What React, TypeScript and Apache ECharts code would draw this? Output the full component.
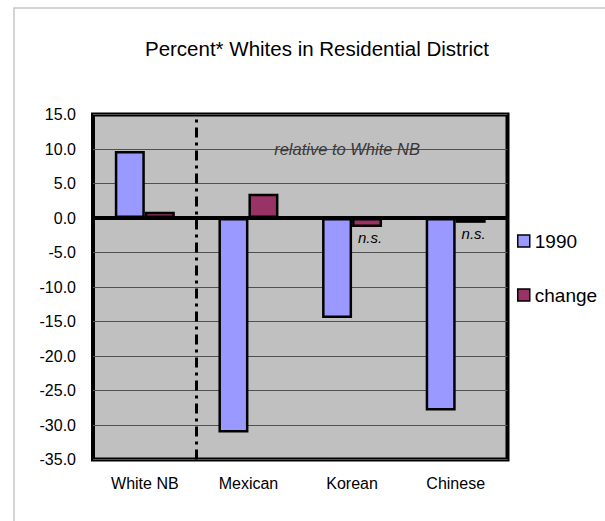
import React, { useEffect, useRef } from "react";
import * as echarts from "echarts";

// Groups along the category axis
const groups = ["White NB", "Mexican", "Korean", "Chinese"];
// Percent whites in 1990, relative to White NB
const values1990 = [9.7, -31.1, -14.5, -27.9];
// Change since 1990
const valuesChange = [0.9, 3.5, -1.3, -0.7];
// Changes that are not statistically significant
const notSignificant = [false, false, true, true];
// Value-axis range
const yMin = -35;
const yMax = 15;
const yStep = 5;

const FONT = "Liberation Sans, Arial, sans-serif";

export default function App() {
  const ref = useRef<HTMLDivElement>(null);

  useEffect(() => {
    if (!ref.current) return;
    const chart = echarts.init(ref.current, undefined, { renderer: "svg" });

    const changeData = valuesChange.map((v, i) =>
      notSignificant[i]
        ? {
            value: v,
            label: {
              show: true,
              position: "outside",
              distance: 3,
              offset: [3, 0],
              formatter: "n.s.",
              fontStyle: "italic",
              fontSize: 15,
              fontFamily: FONT,
              color: "#000",
            },
          }
        : v
    );

    chart.setOption({
      animation: false,
      backgroundColor: "#fff",
      textStyle: { fontFamily: FONT },
      title: {
        text: "Percent* Whites in Residential District",
        left: 312,
        textAlign: "center",
        top: 33,
        textStyle: { fontSize: 20.5, fontWeight: "normal", color: "#000", fontFamily: FONT },
      },
      legend: {
        orient: "vertical",
        left: 512,
        top: 226,
        itemWidth: 12,
        itemHeight: 12,
        itemGap: 34,
        icon: "rect",
        data: ["1990", "change"],
        textStyle: { fontSize: 19, lineHeight: 20, color: "#000", fontFamily: FONT },
        itemStyle: { borderColor: "#000", borderWidth: 1.5 },
      },
      grid: {
        left: 93,
        right: 97.5,
        top: 114.5,
        bottom: 61.5,
        show: true,
        backgroundColor: "#c0c0c0",
        borderColor: "#000",
        borderWidth: 4,
      },
      xAxis: [
        {
          type: "category",
          data: groups,
          axisLine: { show: false, onZero: false },
          axisTick: { show: false },
          axisLabel: { fontSize: 16, color: "#000", margin: 16, fontFamily: FONT },
        },
        {
          // helper axis used to place the dash-dot divider between groups
          type: "value",
          min: 0,
          max: groups.length,
          show: false,
        },
      ],
      yAxis: {
        type: "value",
        min: yMin,
        max: yMax,
        interval: yStep,
        axisLine: { show: false },
        axisTick: { show: false },
        axisLabel: {
          fontSize: 16,
          color: "#000",
          margin: 17,
          fontFamily: FONT,
          formatter: (v: number) => v.toFixed(1),
        },
        splitLine: { lineStyle: { color: "#505050", width: 1 } },
      },
      series: [
        {
          name: "1990",
          type: "bar",
          data: values1990,
          barWidth: 30,
          barGap: "0%",
          itemStyle: { color: "#9999ff", borderColor: "#000", borderWidth: 2.5 },
          markPoint: {
            silent: true,
            symbol: "circle",
            symbolSize: 0,
            data: [{ coord: ["Korean", 10] }],
            label: {
              show: true,
              position: "inside",
              offset: [10, 0],
              formatter: "relative to White NB",
              fontStyle: "italic",
              fontSize: 16.5,
              color: "#3a3a3a",
              fontFamily: FONT,
            },
          },
          markLine: {
            silent: true,
            symbol: "none",
            label: { show: false },
            lineStyle: { color: "#000", width: 4, type: "solid" },
            data: [{ yAxis: 0 }],
          },
          z: 3,
        },
        {
          name: "change",
          type: "bar",
          data: changeData,
          barWidth: 30,
          barGap: "0%",
          itemStyle: { color: "#993366", borderColor: "#000", borderWidth: 2.5 },
          z: 3,
        },
        {
          // carries the vertical divider after the reference group
          type: "line",
          xAxisIndex: 1,
          data: [],
          markLine: {
            silent: true,
            symbol: "none",
            label: { show: false },
            lineStyle: { color: "#000", width: 3, type: [10, 5, 3, 5] },
            data: [{ xAxis: 1 }],
          },
        },
      ],
      graphic: [
        {
          type: "polyline",
          silent: true,
          shape: { points: [[14, 521], [14, 8], [605, 8]] },
          style: { stroke: "#c8c8c8", lineWidth: 1.5, fill: "none" },
        },
      ],
    });

    return () => chart.dispose();
  }, []);

  return (
    <div
      ref={ref}
      style={{ position: "absolute", left: 0, top: 0, width: 605, height: 521 }}
    />
  );
}
